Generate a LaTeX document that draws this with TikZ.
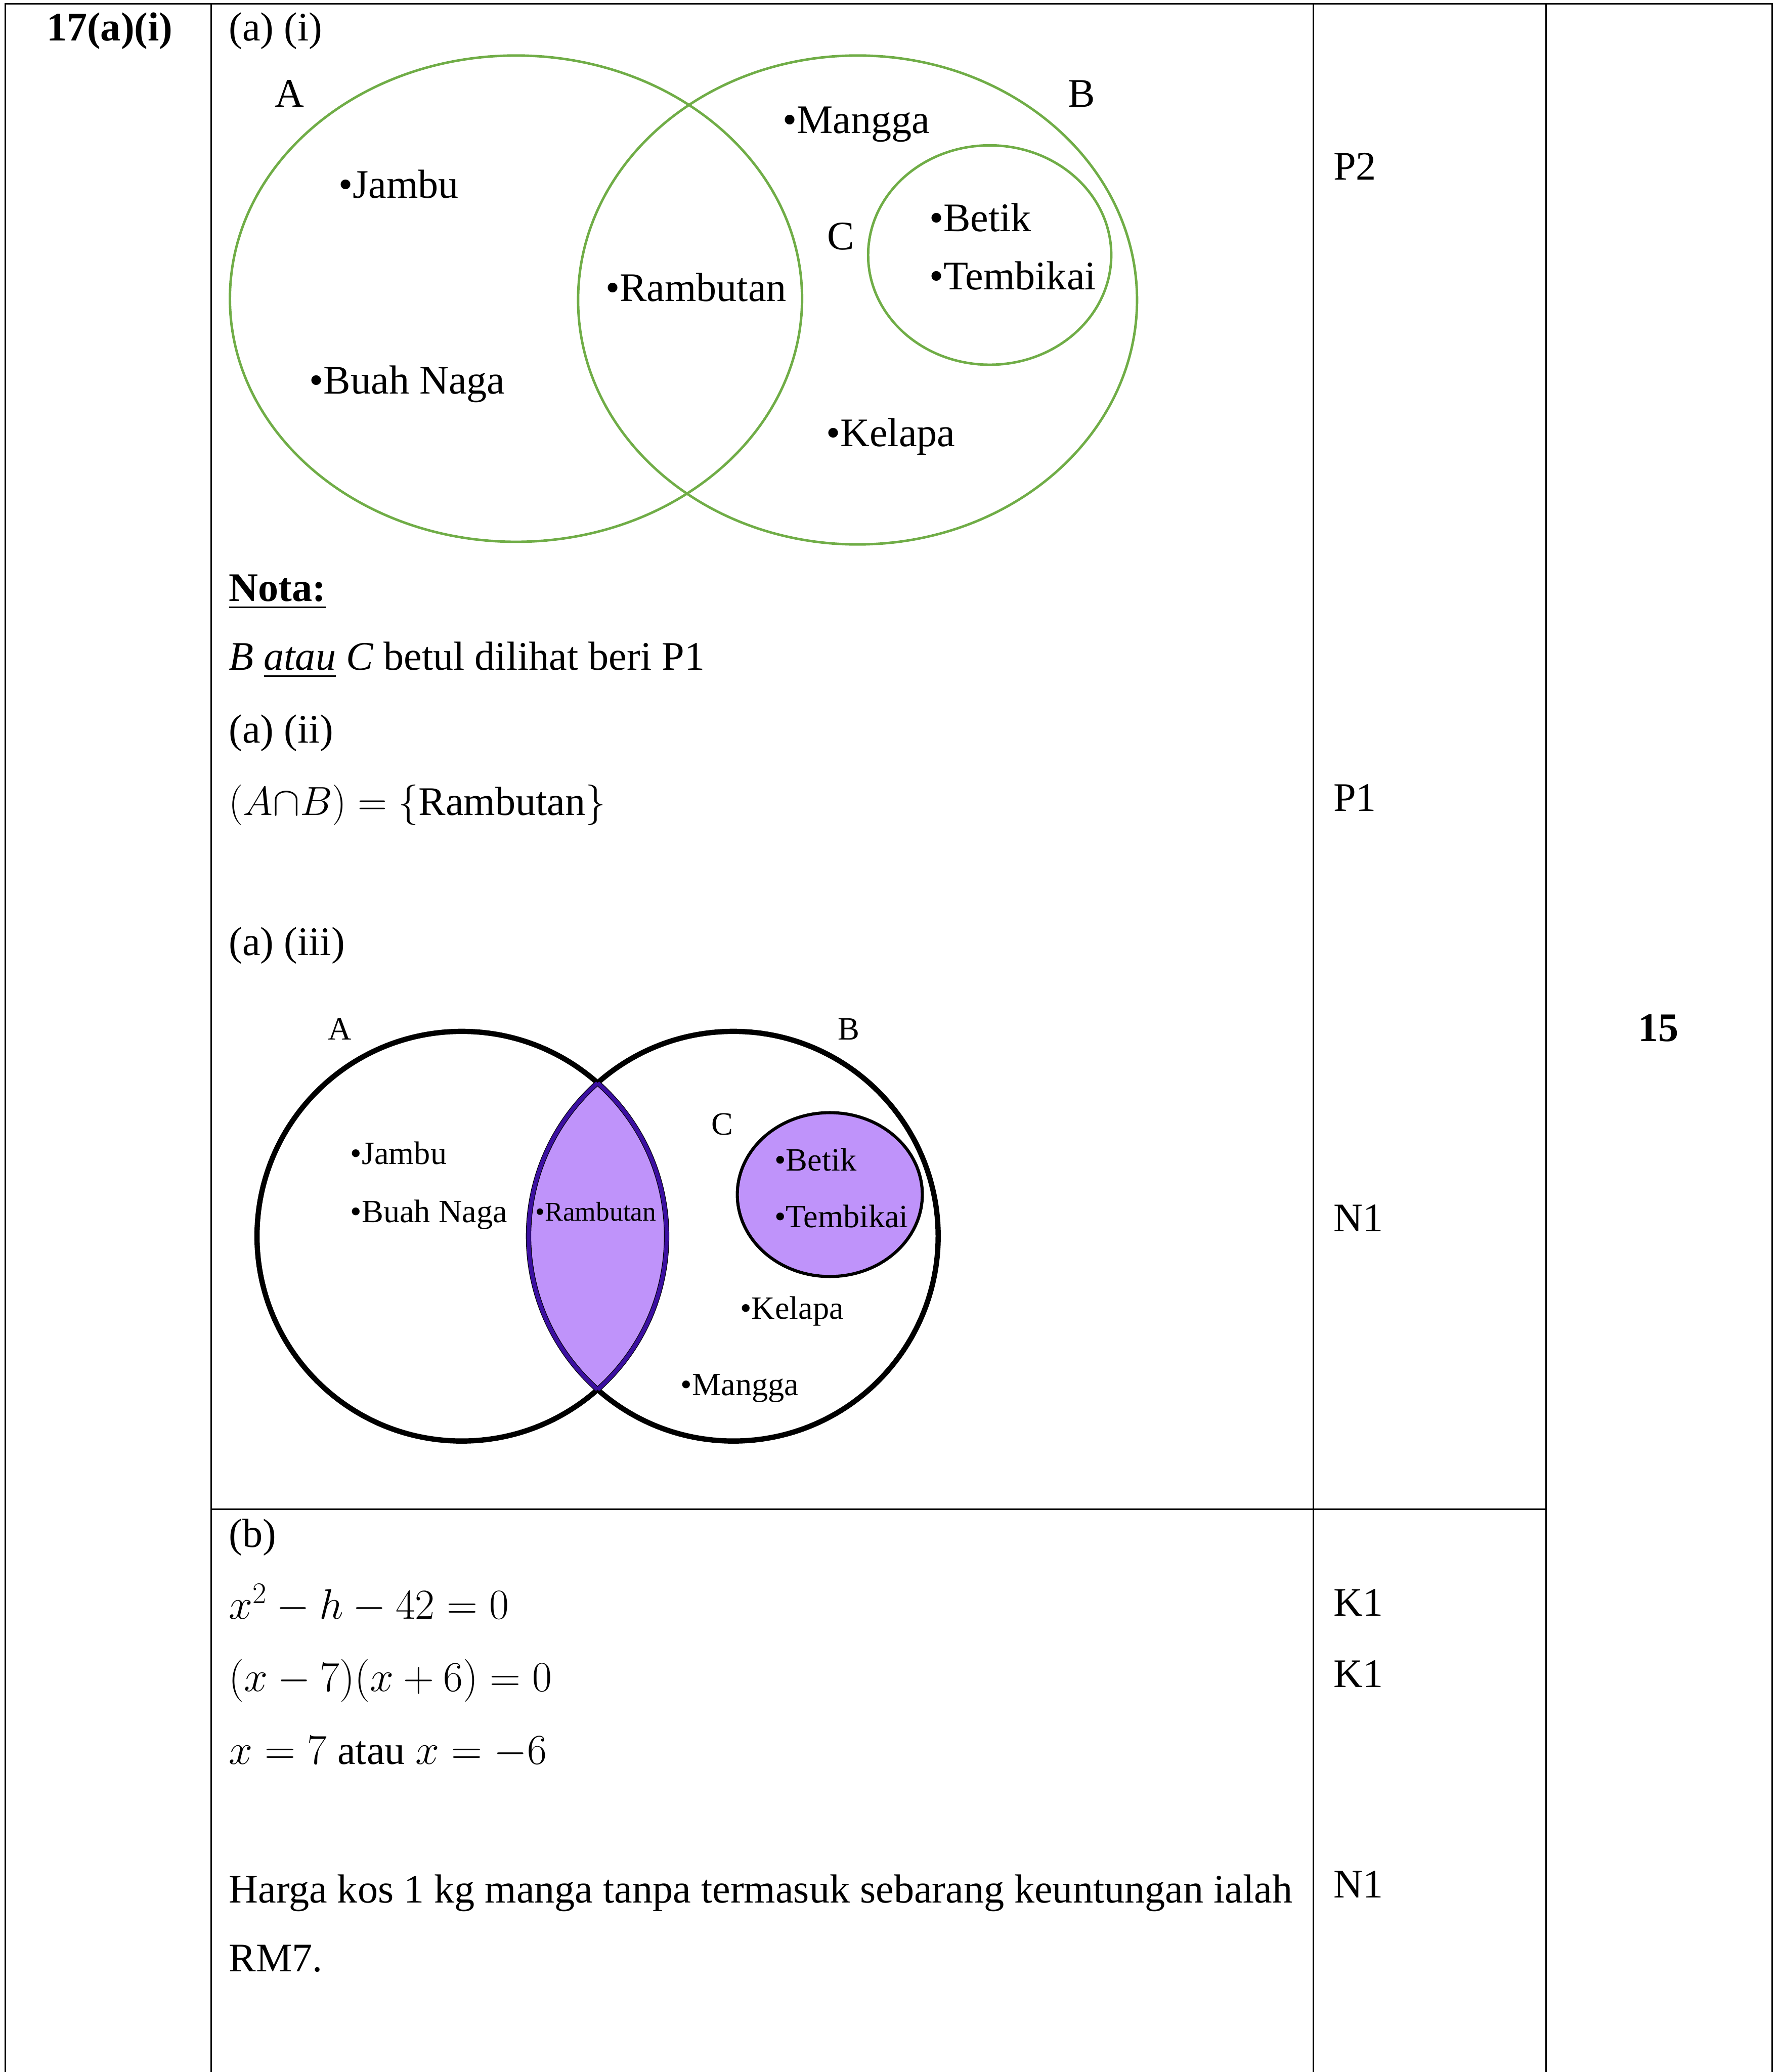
\documentclass[tikz,border=0pt]{standalone}
\usepackage{fix-cm}
\usepackage{amsmath}
\usepackage{fontspec}
\setmainfont{Liberation Serif}
\usepackage{tikz}
\usetikzlibrary{positioning}
\definecolor{setgreen}{HTML}{70AD47}
\definecolor{lensfill}{HTML}{BF93FA}
\definecolor{lensedge}{HTML}{3B0FA0}
\newcommand{\bodyfont}{\fontsize{26.2}{31}\selectfont}
\newcommand{\eqfont}{\fontsize{27.6}{33}\selectfont}
\newcommand{\vennfont}{\fontsize{21}{25}\selectfont}
\newcommand{\lensfont}{\fontsize{17.5}{21}\selectfont}
\tikzset{
  gridline/.style={line width=1pt,black},
  greenset/.style={draw=setgreen,line width=1.6pt},
  blackset/.style={draw=black,line width=3.4pt},
  lensline/.style={draw=lensedge,line width=2.6pt},
  txt/.style={anchor=base west,inner sep=0pt,font=\bodyfont},
  eqtxt/.style={txt,font=\eqfont},
  vtxt/.style={txt,font=\vennfont},
  markcell/.style={txt},
}

\begin{document}
\begin{tikzpicture}[x=0.03cm,y=-0.03cm]
  \useasboundingbox (0,0) rectangle (1346,1568);
  % ---- table grid ----
  \coordinate (tl) at (4,3);     \coordinate (tr) at (1341,3);
  \coordinate (c1t) at (160,3);  \coordinate (c1b) at (160,1568);
  \coordinate (c2t) at (994,3);  \coordinate (c2b) at (994,1568);
  \coordinate (c3t) at (1170,3); \coordinate (c3b) at (1170,1568);
  \coordinate (bl) at (4,1568);  \coordinate (br) at (1341,1568);
  \coordinate (hl) at (160,1142); \coordinate (hr) at (1170,1142);
  \draw[gridline] (bl) -- (tl) -- (tr) -- (br);
  \draw[gridline] (c1t) -- (c1b);
  \draw[gridline] (c2t) -- (c2b);
  \draw[gridline] (c3t) -- (c3b);
  \draw[gridline] (hl) -- (hr);

  \node[txt,font=\bodyfont\bfseries] (qno) at (35,31) {17(a)(i)};
  \node[txt] (ai) at (173,31) {(a) (i)};

  % ---- (a)(i) green venn ----
  \draw[greenset] (390.5,226) ellipse [x radius=216.5,y radius=184];
  \draw[greenset] (649,227) ellipse [x radius=211.5,y radius=185];
  \draw[greenset] (749,193) ellipse [x radius=92,y radius=83];
  \node[txt] (lA) at (208,81) {A};
  \node[txt] (lB) at (808,81) {B};
  \node[txt] (lC) at (626,189) {C};
  \node[txt] (mangga) at (592,101) {•Mangga};
  \node[txt] (jambu) at (256,150) {•Jambu};
  \node[txt] (betik) at (703,175) {•Betik};
  \node[txt] (tembikai) at (703,219) {•Tembikai};
  \node[txt] (rambutan) at (458,228) {•Rambutan};
  \node[txt] (naga) at (234,298) {•Buah Naga};
  \node[txt] (kelapa) at (625,338) {•Kelapa};

  % ---- notes and (a)(ii) ----
  \node[txt] (nota) at (173,455) {\underline{\textbf{Nota:}}};
  \node[txt] (notaline) at (173,507) {\textit{B} \textit{\underline{atau}} \textit{C} betul dilihat beri P1};
  \node[txt] (aii) at (173,562) {(a) (ii)};
  \node[txt] (aiians) at (173,617) {$(A{\cap}B)=\{\textrm{Rambutan}\}$};
  \node[txt] (aiii) at (173,723) {(a) (iii)};

  % ---- (a)(iii) shaded venn ----
  \begin{scope}
    \clip (349.5,935.5) ellipse [x radius=155,y radius=155];
    \fill[lensfill] (555,935.5) ellipse [x radius=155,y radius=155];
  \end{scope}
  \draw[blackset] (349.5,935.5) ellipse [x radius=155,y radius=155];
  \draw[blackset] (555,935.5) ellipse [x radius=155,y radius=155];
  \begin{scope}
    \clip (349.5,935.5) ellipse [x radius=155,y radius=155];
    \draw[lensline] (555,935.5) ellipse [x radius=155,y radius=155];
  \end{scope}
  \begin{scope}
    \clip (555,935.5) ellipse [x radius=155,y radius=155];
    \draw[lensline] (349.5,935.5) ellipse [x radius=155,y radius=155];
  \end{scope}
  \draw[fill=lensfill,draw=black,line width=2pt] (628,904) ellipse [x radius=70,y radius=62];
  \node[vtxt] (sA) at (248,787) {A};
  \node[vtxt] (sB) at (634,787) {B};
  \node[vtxt] (sC) at (538,859) {C};
  \node[vtxt] (sjambu) at (265,881) {•Jambu};
  \node[vtxt] (snaga) at (265,925) {•Buah Naga};
  \node[txt,font=\lensfont] (srambutan) at (405,924) {•Rambutan};
  \node[vtxt] (sbetik) at (586,886) {•Betik};
  \node[vtxt] (stembikai) at (586,929) {•Tembikai};
  \node[vtxt] (skelapa) at (560,998) {•Kelapa};
  \node[vtxt] (smangga) at (515,1056) {•Mangga};

  % ---- (b) ----
  \node[txt] (b) at (173,1171) {(b)};
  \node[eqtxt] (eq1) at (173,1225) {$x^2-h-42=0$};
  \node[eqtxt] (eq2) at (173,1280) {$(x-7)(x+6)=0$};
  \node[eqtxt] (eq3) at (173,1335) {$x=7$ {\bodyfont atau} $x=-6$};
  \node[txt] (harga) at (173,1440) {Harga kos 1 kg manga tanpa termasuk sebarang keuntungan ialah};
  \node[txt] (rm) at (173,1492) {RM7.};

  % ---- marks ----
  \node[markcell] (p2) at (1009,136) {P2};
  \node[markcell] (p1) at (1009,614) {P1};
  \node[markcell] (n1a) at (1009,932) {N1};
  \node[markcell] (k1a) at (1009,1223) {K1};
  \node[markcell] (k1b) at (1009,1277) {K1};
  \node[markcell] (n1b) at (1009,1436) {N1};
  \node[anchor=base,inner sep=0pt,font=\bodyfont\bfseries] (total) at (1255,788) {15};
\end{tikzpicture}
\end{document}
